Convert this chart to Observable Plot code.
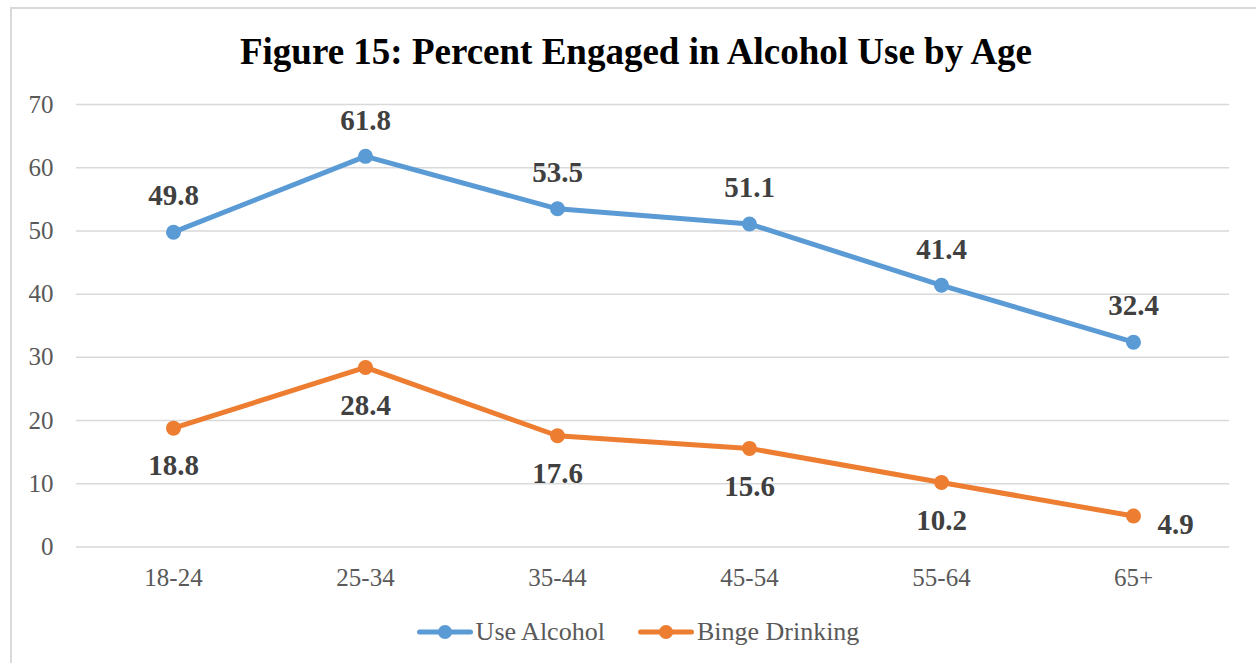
<!DOCTYPE html>
<html>
<head>
<meta charset="utf-8">
<script src="https://cdn.jsdelivr.net/npm/d3@7"></script>
<script src="https://cdn.jsdelivr.net/npm/@observablehq/plot@0.6"></script>
<style>
  html, body { margin: 0; padding: 0; background: #fff; }
  #wrap { position: relative; width: 1256px; height: 663px; overflow: hidden; background: #fff; }
  #frame { position: absolute; left: 10px; top: 7px; width: 1300px; height: 720px; border: 2px solid #d9d9d9; box-sizing: border-box; }
  #chart { position: absolute; left: 0; top: 0; }
  #chart svg, #chart svg text, #chart svg g { font-family: "Liberation Serif", serif !important; }
  #title { position: absolute; left: 8px; top: 33px; width: 1256px; text-align: center;
           font-family: "Liberation Serif", serif; font-weight: bold; font-size: 37px; line-height: 37px; color: #000; }
  #legend { position: absolute; left: 10px; top: 619px; width: 1256px; display: flex; justify-content: center; align-items: center;
            font-family: "Liberation Serif", serif; font-size: 26px; line-height: 26px; color: #595959; }
  .item { display: flex; align-items: center; }
  .item + .item { margin-left: 33px; }
  .item svg { margin-right: 3px; display: block; }
</style>
</head>
<body>
<div id="wrap">
  <div id="frame"></div>
  <div id="chart"></div>
  <div id="title">Figure 15: Percent Engaged in Alcohol Use by Age</div>
  <div id="legend"></div>
</div>
<script>
const ages = ["18-24", "25-34", "35-44", "45-54", "55-64", "65+"];
const useAlcohol = [49.8, 61.8, 53.5, 51.1, 41.4, 32.4];
const bingeDrinking = [18.8, 28.4, 17.6, 15.6, 10.2, 4.9];
const seriesNames = ["Use Alcohol", "Binge Drinking"];
const seriesColors = ["#5B9BD5", "#ED7D31"];
const yTicks = [0, 10, 20, 30, 40, 50, 60, 70];

const alc = ages.map((a, i) => ({age: a, series: seriesNames[0], value: useAlcohol[i]}));
const binge = ages.map((a, i) => ({age: a, series: seriesNames[1], value: bingeDrinking[i]}));
const data = alc.concat(binge);
const lastAge = ages[ages.length - 1];

const labelStyle = {fontSize: 29, fontWeight: "bold", fill: "#404040", fontFamily: "Liberation Serif"};

const chart = Plot.plot({
  width: 1256,
  height: 600,
  marginLeft: 76,
  marginRight: 27,
  marginTop: 104,
  marginBottom: 53.5,
  style: {fontFamily: "'Liberation Serif', serif", background: "transparent", overflow: "visible"},
  x: {type: "point", domain: ages, padding: 0.5, label: null},
  y: {domain: [0, 70], label: null},
  color: {domain: seriesNames, range: seriesColors},
  marks: [
    Plot.gridY(yTicks, {stroke: "#d9d9d9", strokeOpacity: 1, strokeWidth: 1.5}),
    Plot.axisY(yTicks, {tickSize: 0, tickPadding: 23, fontSize: 25, fill: "#595959", label: null}),
    Plot.axisX({tickSize: 0, tickPadding: 21, fontSize: 25, fill: "#595959", label: null}),
    Plot.line(data, {x: "age", y: "value", z: "series", stroke: "series", strokeWidth: 5}),
    Plot.dot(data, {x: "age", y: "value", fill: "series", r: 7.5}),
    Plot.text(alc, {x: "age", y: "value", text: d => d.value.toFixed(1), dy: -36, ...labelStyle}),
    Plot.text(binge.filter(d => d.age !== lastAge), {x: "age", y: "value", text: d => d.value.toFixed(1), dy: 38, ...labelStyle}),
    Plot.text(binge.filter(d => d.age === lastAge), {x: "age", y: "value", text: d => d.value.toFixed(1), dx: 24, dy: 9, textAnchor: "start", ...labelStyle})
  ]
});
document.getElementById("chart").appendChild(chart);

const legend = document.getElementById("legend");
seriesNames.forEach((name, i) => {
  const item = document.createElement("div");
  item.className = "item";
  item.innerHTML = `<svg width="56" height="26"><line x1="2.5" y1="13" x2="53.5" y2="13" stroke="${seriesColors[i]}" stroke-width="5" stroke-linecap="round"/><circle cx="28" cy="13" r="7" fill="${seriesColors[i]}"/></svg><span>${name}</span>`;
  legend.appendChild(item);
});
</script>
</body>
</html>
